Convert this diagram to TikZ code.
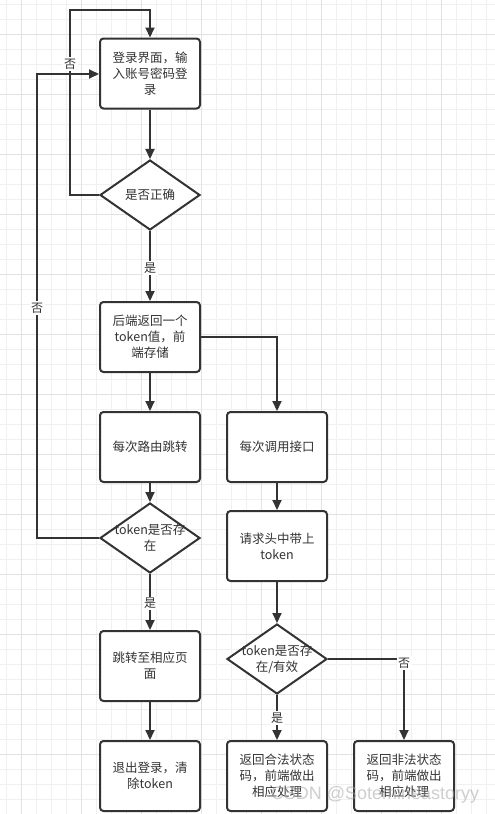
\documentclass[tikz,border=0pt]{standalone}
\usepackage{fontspec}
\setmainfont{Noto Sans CJK SC}
\newfontfamily\wmfont{Liberation Sans}
\usetikzlibrary{shapes.geometric,arrows.meta}
\definecolor{ln}{HTML}{333333}
\definecolor{txt}{HTML}{333333}
\definecolor{gminor}{HTML}{F0F0F0}
\definecolor{gmajor}{HTML}{E2E2E2}
\begin{document}
\begin{tikzpicture}[x=1pt,y=-1pt,
  box/.style={draw=ln, line width=2pt, rounded corners=3.5pt, fill=white,
    minimum width=100pt, minimum height=70pt, inner sep=0pt, align=center,
    text=txt, font=\fontsize{12.5}{16}\selectfont},
  dia/.style={draw=ln, line width=2pt, diamond, fill=white,
    minimum width=100pt, minimum height=70pt, inner sep=0pt},
  dtxt/.style={align=center, text=txt, font=\fontsize{12.5}{16}\selectfont, inner sep=0pt},
  flow/.style={draw=ln, line width=2pt, -{Triangle[length=10pt,width=9pt]}},
  lbl/.style={fill=white, text=txt, inner sep=1.5pt, font=\fontsize{12}{14}\selectfont},
]
\useasboundingbox (0,0) rectangle (495,814);
\fill[white] (0,0) rectangle (495,814);
% grid
\foreach \i in {0,...,32} \draw[gminor, line width=1pt] (6+15*\i,0) -- (6+15*\i,814);
\foreach \i in {0,...,54} \draw[gminor, line width=1pt] (0,4.3+15*\i) -- (495,4.3+15*\i);
\foreach \i in {0,...,8} \draw[gmajor, line width=1pt] (21+60*\i,0) -- (21+60*\i,814);
\foreach \i in {0,...,13} \draw[gmajor, line width=1pt] (0,34.3+60*\i) -- (495,34.3+60*\i);

% nodes
\node[box] (b1) at (150,73.5) {登录界面，输\\入账号密码登\\录};
\node[dia] (d1) at (150,195) {};
\node[dtxt] (t1) at (d1.center) {是否正确};
\node[box] (b2) at (150,337) {后端返回一个\\token值，前\\端存储};
\node[box] (b3) at (150,447) {每次路由跳转};
\node[box] (b4) at (277,447) {每次调用接口};
\node[dia] (d2) at (150,538) {};
\node[dtxt] (t2) at (d2.center) {token是否存\\在};
\node[box] (b5) at (277,546) {请求头中带上\\token};
\node[box] (b6) at (150,666) {跳转至相应页\\面};
\node[dia] (d3) at (277,659) {};
\node[dtxt] (t3) at (d3.center) {token是否存\\在/有效};
\node[box] (b7) at (150,776) {退出登录，清\\除token};
\node[box] (b8) at (277,776) {返回合法状态\\码，前端做出\\相应处理};
\node[box] (b9) at (404,776) {返回非法状态\\码，前端做出\\相应处理};

% helper coordinates
\coordinate (l1a) at (70,195);
\coordinate (l1b) at (70,10);
\coordinate (l1c) at (150,10);
\coordinate (l2a) at (37,538);
\coordinate (l2b) at (37,74);
\coordinate (r2) at (277,337);
\coordinate (r3) at (404,659);

% connectors
\draw[flow] (b1) -- (d1);
\draw[flow] (d1) -- node[lbl,pos=0.53]{是} (b2);
\draw[flow] (d1.west) -- (l1a) -- node[lbl,pos=0.708]{否} (l1b) -- (l1c) -- (b1.north);
\draw[flow] (d2.west) -- (l2a) -- node[lbl,pos=0.496]{否} (l2b) -- (b1.west |- l2b);
\draw[flow] (b2) -- (b3);
\draw[flow] (b2.east |- r2) -- (r2) -- (b4.north);
\draw[flow] (b3) -- (d2);
\draw[flow] (d2) -- node[lbl,pos=0.53]{是} (b6);
\draw[flow] (b6) -- (b7);
\draw[flow] (b4) -- (b5);
\draw[flow] (b5) -- (d3);
\draw[flow] (d3) -- node[lbl,pos=0.51]{是} (b8);
\draw[flow] (d3.east) -- (r3) -- node[lbl,pos=0.05]{否} (b9.north);

% watermark
\node[text=gray!70, opacity=0.55, font=\wmfont\fontsize{18}{20}\selectfont, inner sep=0pt] (wm) at (375,795) {CSDN @Sotemineastoryy};
\end{tikzpicture}
\end{document}
